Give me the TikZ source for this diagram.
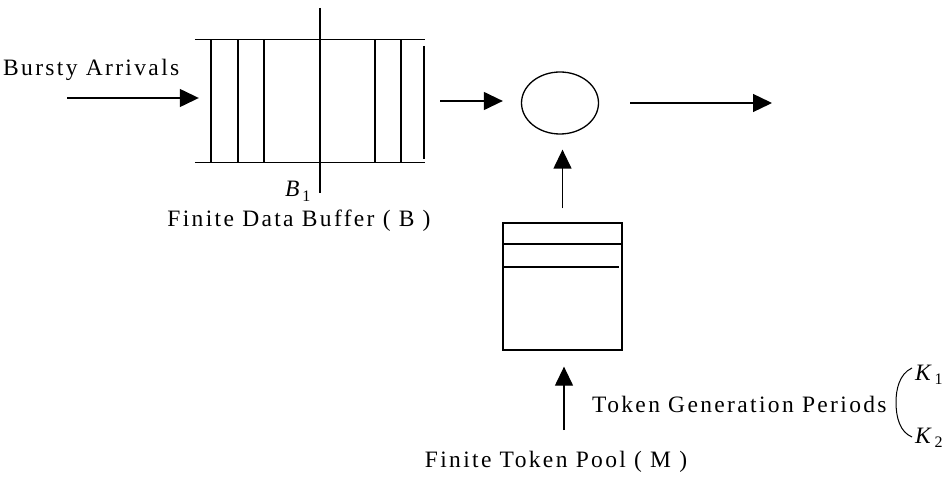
\documentclass[tikz,border=0pt]{standalone}
\usepackage{fontspec}
\setmainfont{Liberation Serif}[LetterSpace=10]
\usetikzlibrary{arrows.meta,shapes.geometric,calc}
\tikzset{
  ln/.style={line width=1.3pt},
  arr/.style={ln, -{Triangle[length=19pt,width=18pt]}},
  lbl/.style={font=\fontsize{23.5}{27}\selectfont, inner sep=0pt},
}
\newcommand\symsub[2]{\textit{#1}\kern0.5pt\raisebox{-4.5pt}{\fontsize{16}{16}\selectfont #2}}
\begin{document}
\begin{tikzpicture}[x=1pt,y=-1pt]
\useasboundingbox (0,0) rectangle (952,478);
% data buffer
\node[inner sep=0pt, minimum width=230pt, minimum height=122pt] (buf) at (310,101) {};
\draw[ln] (buf.north west) -- (buf.north east);
\draw[ln] (buf.south west) -- (buf.south east);
\foreach \xx in {211,238,264,375,401}
  \draw[ln] (\xx,0 |- buf.north) -- (\xx,0 |- buf.south);
\draw[ln] (424,46) -- (424,159);
\draw[ln] (320,8) -- (320,193);
% server
\node[draw, ln, ellipse, minimum width=77pt, minimum height=62pt, inner sep=0pt] (srv) at (560,103) {};
% token pool
\node[draw, ln, minimum width=119pt, minimum height=127pt, inner sep=0pt] (pool) at (562.5,286.5) {};
\draw[ln] (pool.west |- 0,244) -- (pool.east |- 0,244);
\draw[ln] (pool.west |- 0,267) -- ($(pool.east |- 0,267)+(-4,0)$);
% connectors
\coordinate (in) at (67,98);
\draw[arr, shorten >=-4pt] (in) -- (buf.west |- in);
\draw[arr, shorten <=15pt, shorten >=18pt] (buf.east) -- (buf.east -| srv.west);
\coordinate (out) at (772,103);
\draw[arr, shorten <=31pt] (srv.east) -- (out);
\draw[arr, shorten <=14pt, shorten >=15pt] (pool.north) -- (pool.north |- srv.south);
\coordinate (tg) at (564,430);
\draw[arr, shorten >=16pt] (tg) -- (tg |- pool.south);
% labels
\node[lbl, anchor=base west] (ba) at (3,76) {Bursty Arrivals};
\node[lbl, anchor=base west] (b1) at (285,197) {\symsub{B}{1}};
\node[lbl, anchor=base] (fdb) at (299,227) {Finite Data Buffer ( B )};
\node[lbl, anchor=base] (ftp) at (556,467) {Finite Token Pool ( M )};
\node[lbl, anchor=base west] (tgp) at (592,412) {Token Generation Periods};
\node[lbl, anchor=base west] (k1) at (915,380) {\symsub{K}{1}};
\node[lbl, anchor=base west] (k2) at (915,443) {\symsub{K}{2}};
\draw[line width=1pt] (912,368) .. controls (899,374) and (896,390) .. (896,402)
  .. controls (896,418) and (900,432) .. (912,437);
\end{tikzpicture}
\end{document}
